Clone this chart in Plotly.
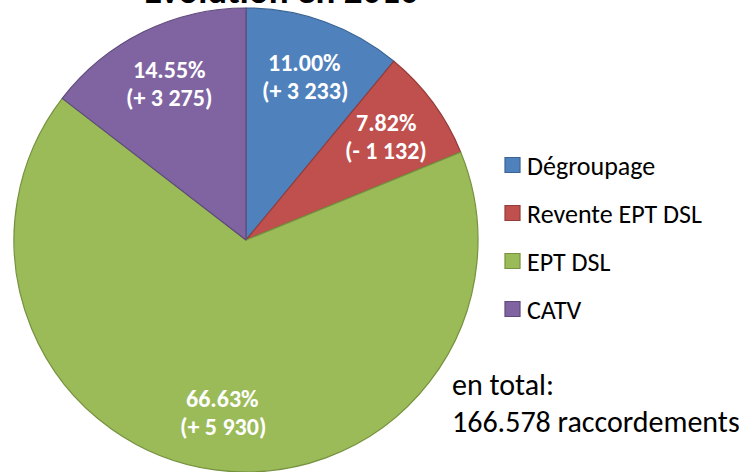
import math
import plotly.graph_objects as go

categories = ["Dégroupage", "Revente EPT DSL", "EPT DSL", "CATV"]
shares = [11.00, 7.82, 66.63, 14.55]
changes = ["+ 3 233", "- 1 132", "+ 5 930", "+ 3 275"]
colors = ["#4F81BD", "#C0504D", "#9BBB59", "#8064A2"]
borders = ["#3A6494", "#943C3A", "#76923F", "#5F4A7B"]
title_text = "Evolution en 2010"
total_lines = ["en total:", "166.578 raccordements"]

W, H = 739, 472
FONT = "Calibri, Carlito, Lato, sans-serif"

# pie geometry (pixels from top-left)
CX, CY, R = 246, 240, 232

fig = go.Figure(go.Pie(
    labels=categories,
    values=shares,
    textinfo="none",
    sort=False,
    direction="clockwise",
    rotation=0,
    marker=dict(colors=colors, line=dict(color=borders, width=1.2)),
    hoverinfo="label+percent",
    showlegend=False,
    domain=dict(x=[(CX - R) / W, (CX + R) / W], y=[(H - CY - R) / H, (H - CY + R) / H]),
))

annotations = []
shapes = []

# slice labels placed at 3/4 radius along each slice's mid-angle
total = sum(shares)
cum = 0.0
for s, c in zip(shares, changes):
    mid = (cum + s / 2) / total * 2 * math.pi
    cum += s
    px = CX + 0.75 * R * math.sin(mid)
    py = CY - 0.75 * R * math.cos(mid)
    for k, line in enumerate([f"{s:.2f}%", f"({c})"]):
        annotations.append(dict(text=f"<b>{line}</b>", xref="paper", yref="paper",
                                x=px / W, y=(H - (py - 14 + 28 * k)) / H,
                                xanchor="center", yanchor="middle",
                                showarrow=False, align="center",
                                font=dict(family=FONT, size=24, color="white")))

# manual legend
leg_y = [165, 213, 261, 309]
for cat, col, bc, yy in zip(categories, colors, borders, leg_y):
    shapes.append(dict(type="rect", xref="paper", yref="paper",
                       x0=505 / W, x1=520 / W,
                       y0=(H - yy - 7.5) / H, y1=(H - yy + 7.5) / H,
                       fillcolor=col, line=dict(color=bc, width=1.2)))
    annotations.append(dict(text=cat, xref="paper", yref="paper",
                            x=525 / W, y=(H - yy - 1) / H, xanchor="left", yanchor="middle",
                            showarrow=False, font=dict(family=FONT, size=26, color="black")))

# total text, two lines
for k, line in enumerate(total_lines):
    annotations.append(dict(text=line, xref="paper", yref="paper",
                            x=450 / W, y=(H - (385 + 36 * k)) / H, xanchor="left", yanchor="middle",
                            align="left", showarrow=False,
                            font=dict(family=FONT, size=30, color="black")))

# title (mostly cut off at the top)
annotations.append(dict(text=f"<b>{title_text}</b>", xref="paper", yref="paper",
                        x=281 / W, y=(H + 9) / H, xanchor="center", yanchor="middle",
                        showarrow=False,
                        font=dict(family=FONT, size=37, color="black")))

fig.update_layout(
    width=W, height=H,
    margin=dict(l=0, r=0, t=0, b=0),
    paper_bgcolor="white",
    plot_bgcolor="white",
    annotations=annotations,
    shapes=shapes,
)

fig.write_html("out.html", config={"displayModeBar": False},
               post_script="document.body.style.margin='0';document.body.style.overflow='hidden';")
